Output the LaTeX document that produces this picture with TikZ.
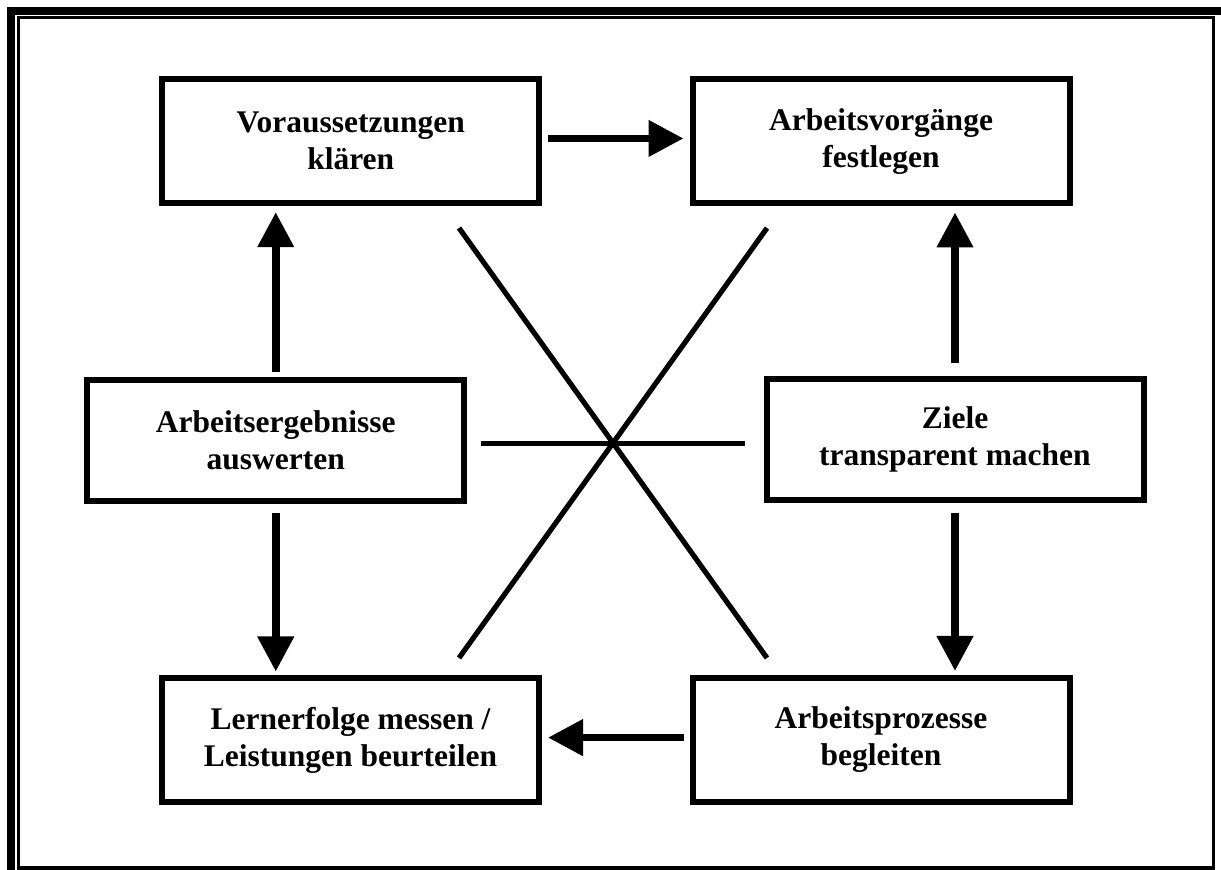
\documentclass[tikz,border=0pt]{standalone}
\usepackage{fontspec}
\setmainfont{Liberation Serif}
\usetikzlibrary{arrows.meta,positioning}

\begin{document}
\begin{tikzpicture}[x=0.5pt,y=-0.5pt]
			\tikzstyle{every node}+=[inner sep=0pt]
			\tikzstyle{stepbox}=[draw=black, line width=3pt, rectangle, minimum width=188.5pt, minimum height=62pt, align=center, font=\fontsize{15.75}{18.5}\selectfont\bfseries]
			\tikzstyle{midbox}=[stepbox, minimum height=60.5pt]
			\tikzstyle{flow}=[black, line width=3.75pt, -{Triangle[length=17.5pt,width=17.5pt]}]
			\tikzstyle{cross}=[black, line width=2.6pt]
			\useasboundingbox (0,0) rectangle (1221,870);
			% frame
			\draw [black, line width=4pt] (11,11) rectangle (1225,875);
			\draw [black, line width=1.5pt] (18.5,17.5) rectangle (1213,868);
			% boxes
			\node [stepbox] (vor) at (350.75,141.25) {Voraussetzungen\\klären};
			\node [stepbox] (avg) at (881,141.5) {Arbeitsvorgänge\\festlegen};
			\node [midbox] (aus) at (275.75,440.5) {Arbeitsergebnisse\\auswerten};
			\node [midbox] (ziel) at (955,439.5) {Ziele\\transparent machen};
			\node [stepbox] (lern) at (350.5,740.5) {Lernerfolge messen /\\Leistungen beurteilen};
			\node [stepbox] (proz) at (881,740) {Arbeitsprozesse\\begleiten};
			% arrows
			\draw [flow, shorten <=3pt, shorten >=3pt] ([yshift=1.4pt]vor.east) -- ([yshift=1.4pt]vor.east -| avg.west);
			\draw [flow, shorten <=2.5pt, shorten >=3pt] (aus.north) -- (aus.north |- vor.south);
			\draw [flow, shorten <=6.5pt, shorten >=3pt] (ziel.north) -- (ziel.north |- avg.south);
			\draw [flow, shorten <=4.5pt, shorten >=2pt] (aus.south) -- (aus.south |- lern.north);
			\draw [flow, shorten <=5pt, shorten >=2pt] (ziel.south) -- (ziel.south |- proz.north);
			\draw [flow, shorten <=3pt, shorten >=3pt] ([yshift=1.2pt]proz.west) -- ([yshift=1.2pt]proz.west -| lern.east);
			% cross in the middle
			\coordinate (xa) at (459,228);
			\coordinate (xb) at (767,658);
			\coordinate (xc) at (767,228);
			\coordinate (xd) at (459,658);
			\coordinate (ha) at (481,443.5);
			\coordinate (hb) at (745,443.5);
			\draw [cross] (xa) -- (xb);
			\draw [cross] (xc) -- (xd);
			\draw [cross] (ha) -- (hb);
\end{tikzpicture}
\end{document}
